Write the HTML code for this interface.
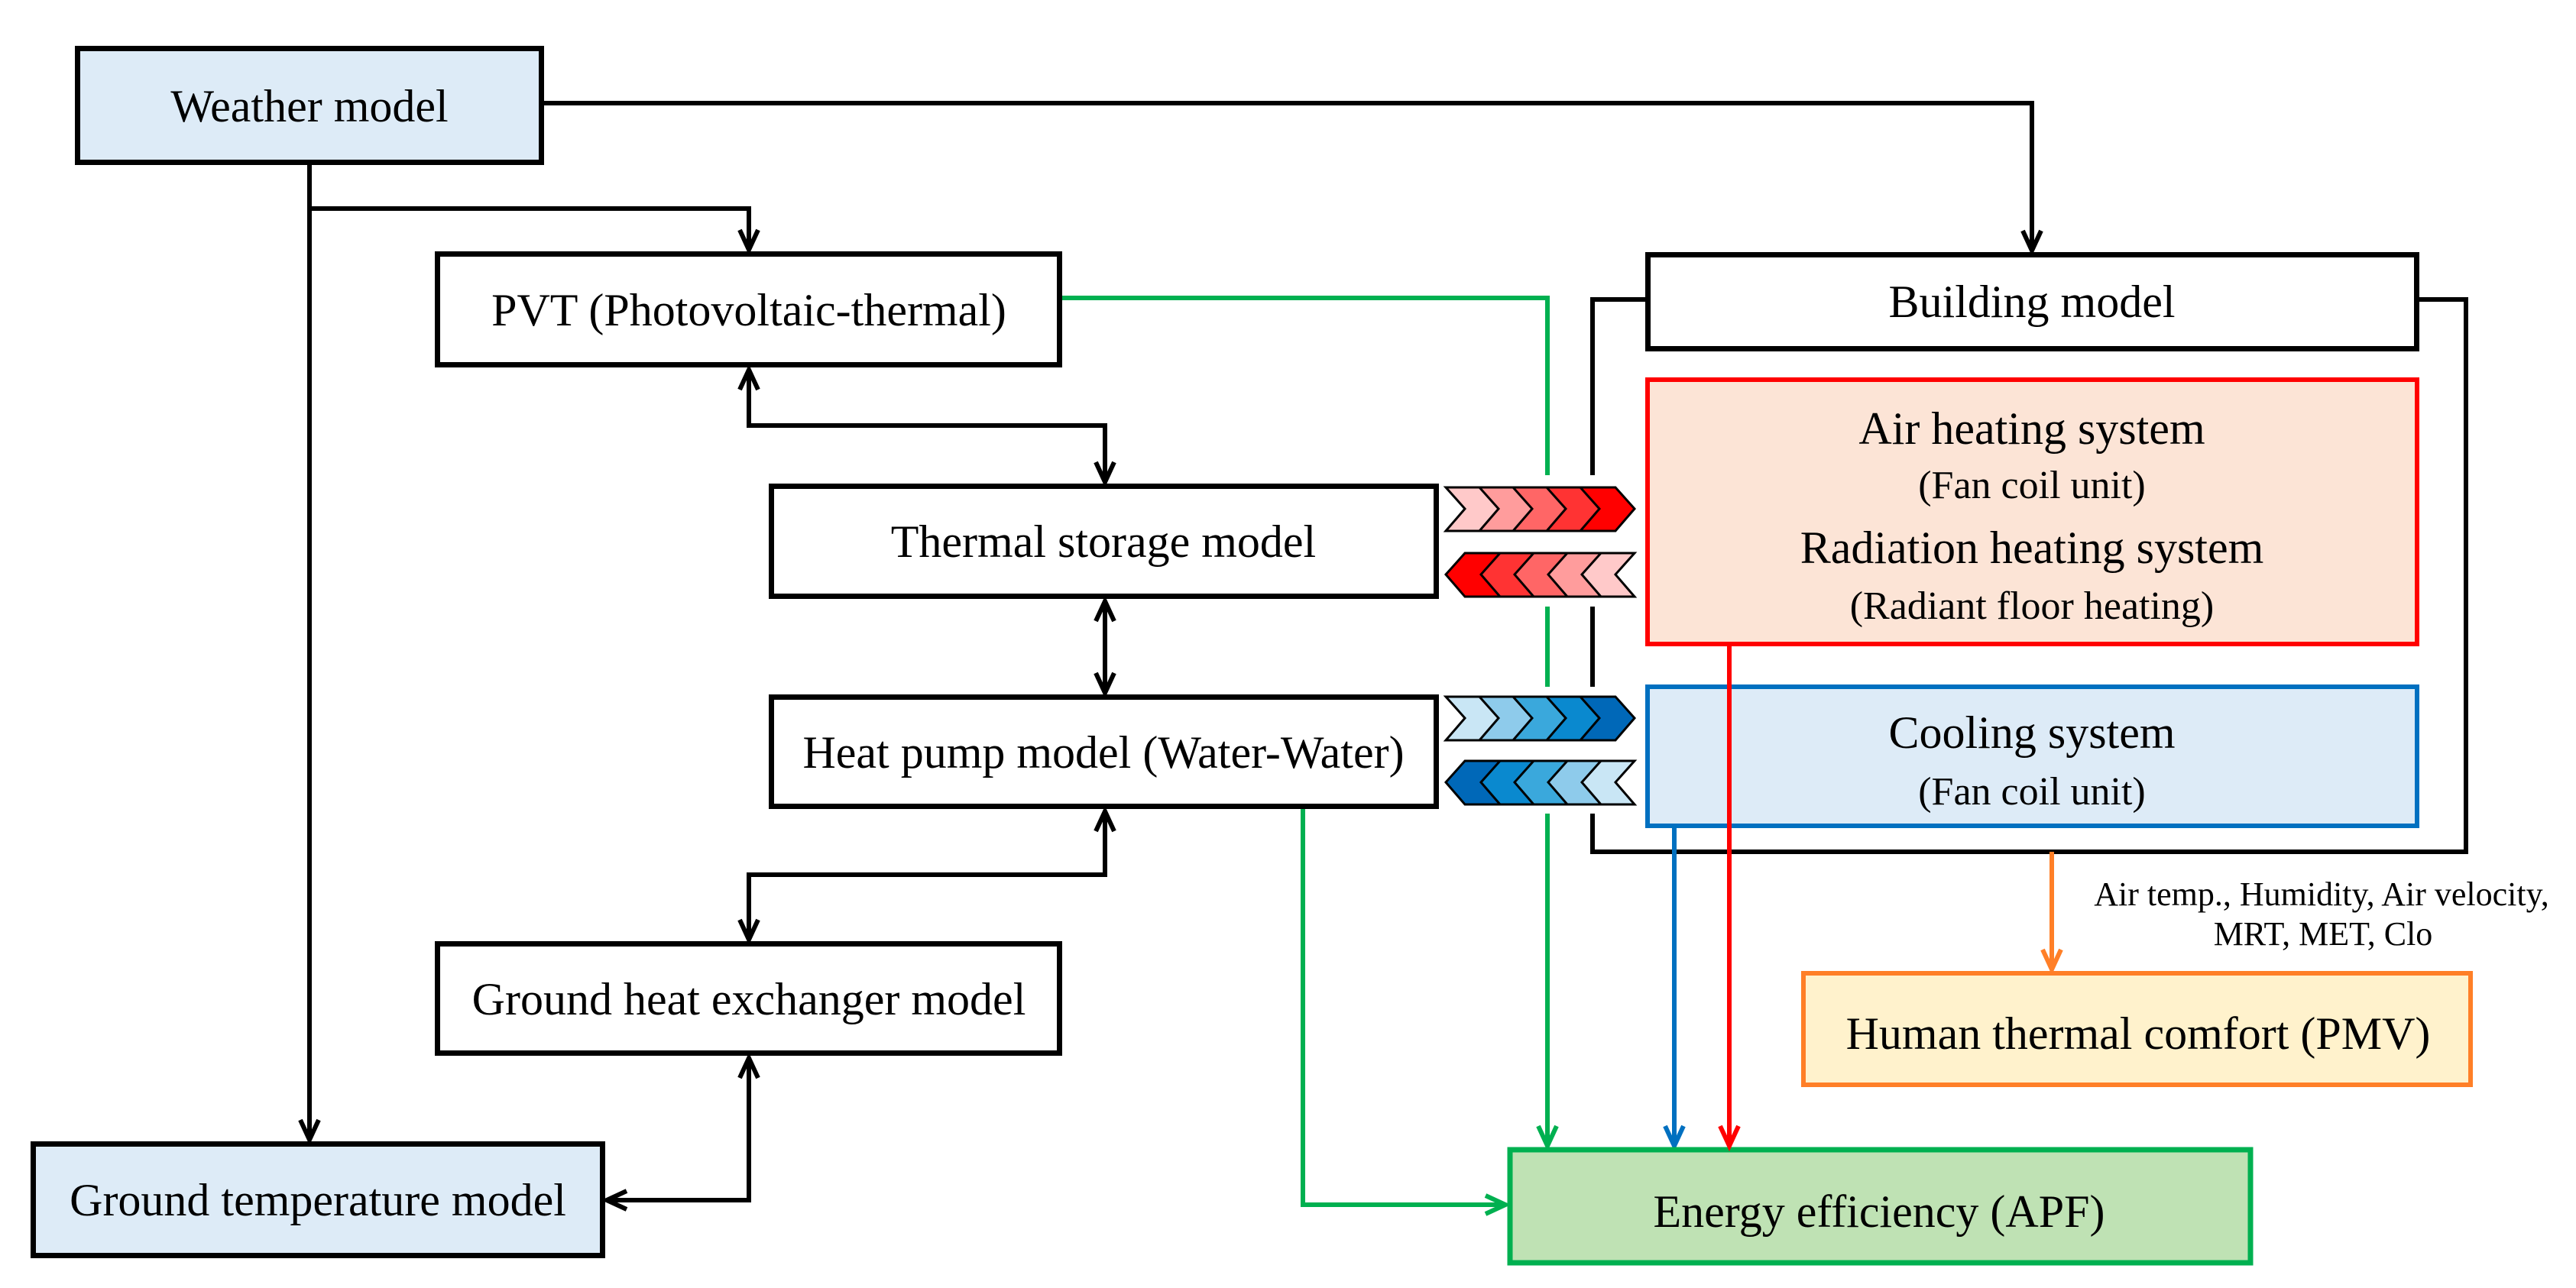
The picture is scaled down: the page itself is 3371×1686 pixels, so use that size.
<!DOCTYPE html>
<html><head><meta charset="utf-8"><style>
html,body{margin:0;padding:0;background:#fff;}
svg{display:block;}
text{font-family:"Liberation Serif",serif;fill:#000;}
</style></head><body>
<svg width="3371" height="1686" viewBox="0 0 3371 1686" xmlns="http://www.w3.org/2000/svg">
<g fill="none" stroke-linecap="butt" stroke-linejoin="miter">
<g stroke="#000" stroke-width="6">
<polyline points="712,135 2659,135 2659,326"/>
<polyline points="405,216 405,1490"/>
<polyline points="405,273 980,273 980,325"/>
<polyline points="980,486 980,557 1446,557 1446,629"/>
<polyline points="1446,789 1446,905"/>
<polyline points="1446,1064 1446,1145 980,1145 980,1228"/>
<polyline points="980,1387 980,1571 797,1571"/>
<polyline points="2153,392 2084,392 2084,1115 3227,1115 3227,392 3166,392"/>
</g>
<g stroke="#000" stroke-width="6">
<polyline points="2647,302 2659,328 2671,302"/>
<polyline points="968,301 980,327 992,301"/>
<polyline points="968,510 980,484 992,510"/>
<polyline points="1434,605 1446,631 1458,605"/>
<polyline points="1434,813 1446,787 1458,813"/>
<polyline points="1434,881 1446,907 1458,881"/>
<polyline points="1434,1088 1446,1062 1458,1088"/>
<polyline points="968,1204 980,1230 992,1204"/>
<polyline points="968,1411 980,1385 992,1411"/>
<polyline points="393,1466 405,1492 417,1466"/>
<polyline points="820,1559 794,1571 820,1583"/>
</g>
<g stroke="#00b050" stroke-width="6">
<polyline points="1390,390 2025,390 2025,1500"/>
<polyline points="1705,1059 1705,1577 1970,1577"/>
<polyline points="2013,1474 2025,1500 2037,1474"/>
<polyline points="1944,1565 1970,1577 1944,1589"/>
</g>
<g stroke="#0070c0" stroke-width="6">
<polyline points="2191,1084 2191,1500"/>
<polyline points="2179,1474 2191,1500 2203,1474"/>
</g>
<g stroke="#ff7f27" stroke-width="6">
<polyline points="2685,1115 2685,1269"/>
<polyline points="2673,1243 2685,1269 2697,1243"/>
</g>
</g>
<rect x="1895" y="622" width="250" height="172" fill="#fff"/>
<rect x="1895" y="899" width="250" height="166" fill="#fff"/>

<rect x="101.5" y="63.5" width="607" height="149" fill="#ddebf7" stroke="#000" stroke-width="7"/>
<rect x="572.5" y="332.5" width="814" height="145" fill="#fff" stroke="#000" stroke-width="7"/>
<rect x="1009.5" y="636.5" width="870" height="144" fill="#fff" stroke="#000" stroke-width="7"/>
<rect x="1009.5" y="912.5" width="870" height="143" fill="#fff" stroke="#000" stroke-width="7"/>
<rect x="572.5" y="1235.5" width="814" height="143" fill="#fff" stroke="#000" stroke-width="7"/>
<rect x="43.5" y="1497.5" width="745" height="146" fill="#ddebf7" stroke="#000" stroke-width="7"/>
<rect x="2156.5" y="333.5" width="1006" height="123" fill="#fff" stroke="#000" stroke-width="7"/>
<rect x="2156" y="497" width="1007" height="346" fill="#fce4d6" stroke="#ff0000" stroke-width="6"/>
<rect x="2156" y="899" width="1007" height="182" fill="#ddebf7" stroke="#0070c0" stroke-width="6"/>
<rect x="2360" y="1274" width="873" height="146" fill="#fff2cc" stroke="#ff7f27" stroke-width="6"/>
<rect x="1976" y="1505" width="969" height="148" fill="#bfe2b4" stroke="#00b050" stroke-width="7"/>

<g fill="none" stroke="#ff0000" stroke-width="6">
<polyline points="2263,846 2263,1500"/>
<polyline points="2251,1474 2263,1500 2275,1474"/>
</g>

<g stroke="#000" stroke-width="3" stroke-linejoin="miter">
<polygon points="1892,638 1938,638 1963,666 1938,695 1892,695 1917,666" fill="#ffc9c9"/>
<polygon points="1936,638 1982,638 2007,666 1982,695 1936,695 1961,666" fill="#ff9c9c"/>
<polygon points="1980,638 2026,638 2051,666 2026,695 1980,695 2005,666" fill="#ff6666"/>
<polygon points="2024,638 2070,638 2095,666 2070,695 2024,695 2049,666" fill="#ff3333"/>
<polygon points="2068,638 2114,638 2139,666 2114,695 2068,695 2093,666" fill="#ff0000"/>

<polygon points="2139,724 2093,724 2068,752 2093,781 2139,781 2114,752" fill="#ffc9c9"/>
<polygon points="2095,724 2049,724 2024,752 2049,781 2095,781 2070,752" fill="#ff9c9c"/>
<polygon points="2051,724 2005,724 1980,752 2005,781 2051,781 2026,752" fill="#ff6666"/>
<polygon points="2007,724 1961,724 1936,752 1961,781 2007,781 1982,752" fill="#ff3333"/>
<polygon points="1963,724 1917,724 1892,752 1917,781 1963,781 1938,752" fill="#ff0000"/>

<polygon points="1892,912 1938,912 1963,940 1938,969 1892,969 1917,940" fill="#c9e6f5"/>
<polygon points="1936,912 1982,912 2007,940 1982,969 1936,969 1961,940" fill="#8ecbeb"/>
<polygon points="1980,912 2026,912 2051,940 2026,969 1980,969 2005,940" fill="#3aa8dc"/>
<polygon points="2024,912 2070,912 2095,940 2070,969 2024,969 2049,940" fill="#0a89cf"/>
<polygon points="2068,912 2114,912 2139,940 2114,969 2068,969 2093,940" fill="#0068b8"/>

<polygon points="2139,996 2093,996 2068,1024 2093,1053 2139,1053 2114,1024" fill="#c9e6f5"/>
<polygon points="2095,996 2049,996 2024,1024 2049,1053 2095,1053 2070,1024" fill="#8ecbeb"/>
<polygon points="2051,996 2005,996 1980,1024 2005,1053 2051,1053 2026,1024" fill="#3aa8dc"/>
<polygon points="2007,996 1961,996 1936,1024 1961,1053 2007,1053 1982,1024" fill="#0a89cf"/>
<polygon points="1963,996 1917,996 1892,1024 1917,1053 1963,1053 1938,1024" fill="#0068b8"/>
</g>

<g text-anchor="middle" font-size="60">
<text x="405" y="159">Weather model</text>
<text x="980" y="426">PVT (Photovoltaic-thermal)</text>
<text x="1444" y="729">Thermal storage model</text>
<text x="1444" y="1005">Heat pump model (Water-Water)</text>
<text x="980" y="1328">Ground heat exchanger model</text>
<text x="416" y="1591">Ground temperature model</text>
<text x="2659" y="415">Building model</text>
<text x="2659" y="581">Air heating system</text>
<text x="2659" y="737">Radiation heating system</text>
<text x="2659" y="979">Cooling system</text>
<text x="2798" y="1373">Human thermal comfort (PMV)</text>
<text x="2459" y="1606">Energy efficiency (APF)</text>
</g>
<g text-anchor="middle" font-size="52">
<text x="2659" y="652">(Fan coil unit)</text>
<text x="2659" y="810">(Radiant floor heating)</text>
<text x="2659" y="1053">(Fan coil unit)</text>
</g>
<g text-anchor="middle" font-size="44">
<text x="3038" y="1185">Air temp., Humidity, Air velocity,</text>
<text x="3040" y="1237">MRT, MET, Clo</text>
</g>
</svg>
</body></html>
